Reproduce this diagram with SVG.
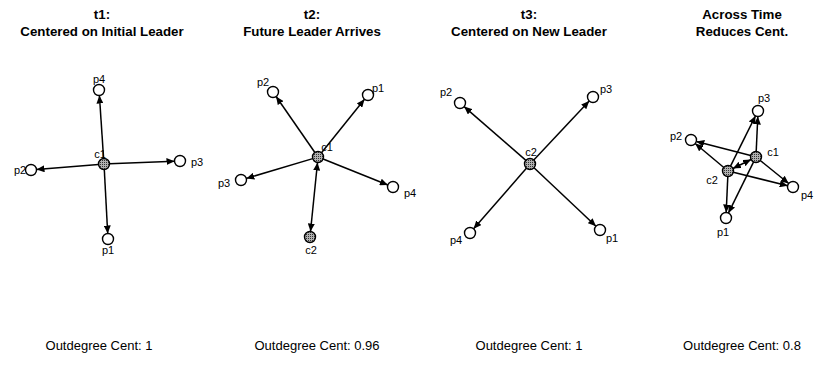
<svg xmlns="http://www.w3.org/2000/svg" width="815" height="365" viewBox="0 0 815 365">
<style>
.bg{fill:#fff}
.title{font-family:"Liberation Sans",Arial,sans-serif;font-size:13.3px;font-weight:bold;fill:#000;text-anchor:middle}
.foot{font-family:"Liberation Sans",Arial,sans-serif;font-size:13px;fill:#000;text-anchor:middle}
.lbl{font-family:"Liberation Sans",Arial,sans-serif;font-size:11px;fill:#000;text-anchor:middle}
.p{fill:#fff;stroke:#000;stroke-width:1.4}
.c{fill:url(#hatch);stroke:#000;stroke-width:1.4}
.e{stroke:#000;stroke-width:1.5;fill:none;marker-end:url(#arr)}
.d{marker-start:url(#arr)}
</style>
<defs>
<pattern id="hatch" width="2" height="2" patternUnits="userSpaceOnUse">
<rect width="2" height="2" fill="#b0b0b0"/>
<rect width="1" height="1" fill="#333"/>
</pattern>
<marker id="arr" markerWidth="9" markerHeight="7" refX="8" refY="3.5" orient="auto-start-reverse" markerUnits="userSpaceOnUse">
<path d="M0,0 L8,3.5 L0,7 z" fill="#000"/>
</marker>
</defs>
<rect class="bg" width="815" height="365"/>
<g id="titles">
<text class="title" x="102" y="19">t1:</text>
<text class="title" x="102" y="36">Centered on Initial Leader</text>
<text class="title" x="312" y="19">t2:</text>
<text class="title" x="312" y="36">Future Leader Arrives</text>
<text class="title" x="529" y="19">t3:</text>
<text class="title" x="529" y="36">Centered on New Leader</text>
<text class="title" x="742" y="19">Across Time</text>
<text class="title" x="742" y="36">Reduces Cent.</text>
</g>
<g id="connectors">
<line class="e" x1="103.6" y1="158.5" x2="99.4" y2="95.5"/>
<line class="e" x1="109.5" y1="163.8" x2="174.5" y2="161.2"/>
<line class="e" x1="98.5" y1="164.5" x2="36.5" y2="169.5"/>
<line class="e" x1="104.3" y1="169.5" x2="107.7" y2="233.5"/>
<line class="e" x1="314.9" y1="152.5" x2="276.1" y2="96.5"/>
<line class="e" x1="321.5" y1="152.7" x2="364.5" y2="99.3"/>
<line class="e" x1="312.7" y1="158.6" x2="246.3" y2="178.4"/>
<line class="e" x1="323.1" y1="159.0" x2="387.9" y2="185.0"/>
<line class="e d" x1="317.5" y1="162.5" x2="310.5" y2="231.5"/>
<line class="e" x1="525.9" y1="160.4" x2="464.1" y2="106.6"/>
<line class="e" x1="533.8" y1="160.0" x2="589.2" y2="101.0"/>
<line class="e" x1="526.4" y1="168.2" x2="473.6" y2="228.8"/>
<line class="e" x1="534.0" y1="167.8" x2="596.0" y2="226.2"/>
<line class="e" x1="750.7" y1="155.6" x2="696.3" y2="141.4"/>
<line class="e" x1="756.2" y1="151.5" x2="757.8" y2="116.5"/>
<line class="e" x1="760.3" y1="160.5" x2="788.7" y2="183.5"/>
<line class="e" x1="753.6" y1="161.9" x2="728.4" y2="213.1"/>
<line class="e" x1="723.8" y1="167.5" x2="695.2" y2="143.5"/>
<line class="e" x1="730.5" y1="166.1" x2="755.5" y2="115.9"/>
<line class="e" x1="733.3" y1="172.3" x2="787.7" y2="185.7"/>
<line class="e" x1="727.8" y1="176.5" x2="726.2" y2="212.5"/>
<line class="e d" x1="751.1" y1="159.5" x2="732.9" y2="168.5"/>
</g>
<g id="t1-c1"><circle class="c" cx="104" cy="164" r="5.5"/><text class="lbl" x="100" y="158">c1</text></g>
<g id="t1-p4"><circle class="p" cx="99" cy="90" r="5.5"/><text class="lbl" x="99" y="83">p4</text></g>
<g id="t1-p3"><circle class="p" cx="180" cy="161" r="5.5"/><text class="lbl" x="197" y="166">p3</text></g>
<g id="t1-p2"><circle class="p" cx="31" cy="170" r="5.5"/><text class="lbl" x="20" y="174">p2</text></g>
<g id="t1-p1"><circle class="p" cx="108" cy="239" r="5.5"/><text class="lbl" x="108" y="254">p1</text></g>
<g id="t2-c1"><circle class="c" cx="318" cy="157" r="5.5"/><text class="lbl" x="327" y="151">c1</text></g>
<g id="t2-p2"><circle class="p" cx="273" cy="92" r="5.5"/><text class="lbl" x="263" y="86">p2</text></g>
<g id="t2-p1"><circle class="p" cx="368" cy="95" r="5.5"/><text class="lbl" x="378" y="92">p1</text></g>
<g id="t2-p3"><circle class="p" cx="241" cy="180" r="5.5"/><text class="lbl" x="224" y="187">p3</text></g>
<g id="t2-p4"><circle class="p" cx="393" cy="187" r="5.5"/><text class="lbl" x="410" y="197">p4</text></g>
<g id="t2-c2"><circle class="c" cx="310" cy="237" r="5.5"/><text class="lbl" x="311" y="254">c2</text></g>
<g id="t3-c2"><circle class="c" cx="530" cy="164" r="5.5"/><text class="lbl" x="531" y="156">c2</text></g>
<g id="t3-p2"><circle class="p" cx="460" cy="103" r="5.5"/><text class="lbl" x="446" y="96">p2</text></g>
<g id="t3-p3"><circle class="p" cx="593" cy="97" r="5.5"/><text class="lbl" x="606" y="93">p3</text></g>
<g id="t3-p4"><circle class="p" cx="470" cy="233" r="5.5"/><text class="lbl" x="456" y="244">p4</text></g>
<g id="t3-p1"><circle class="p" cx="600" cy="230" r="5.5"/><text class="lbl" x="612" y="242">p1</text></g>
<g id="all-c1"><circle class="c" cx="756" cy="157" r="5.5"/><text class="lbl" x="773" y="156">c1</text></g>
<g id="all-c2"><circle class="c" cx="728" cy="171" r="5.5"/><text class="lbl" x="712" y="184">c2</text></g>
<g id="all-p3"><circle class="p" cx="758" cy="111" r="5.5"/><text class="lbl" x="764" y="102">p3</text></g>
<g id="all-p2"><circle class="p" cx="691" cy="140" r="5.5"/><text class="lbl" x="676" y="140">p2</text></g>
<g id="all-p4"><circle class="p" cx="793" cy="187" r="5.5"/><text class="lbl" x="807" y="199">p4</text></g>
<g id="all-p1"><circle class="p" cx="726" cy="218" r="5.5"/><text class="lbl" x="723" y="236">p1</text></g>
<g id="footers">
<text class="foot" x="99" y="350">Outdegree Cent: 1</text>
<text class="foot" x="317" y="350">Outdegree Cent: 0.96</text>
<text class="foot" x="529" y="350">Outdegree Cent: 1</text>
<text class="foot" x="742" y="350">Outdegree Cent: 0.8</text>
</g>
</svg>
